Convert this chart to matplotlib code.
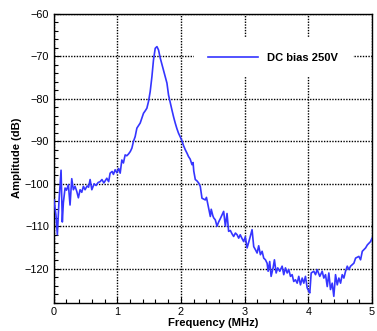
import numpy as np
import matplotlib
matplotlib.use('Agg')
import matplotlib.pyplot as plt
from matplotlib.ticker import MultipleLocator

plt.rcParams['font.family'] = ['Liberation Sans', 'DejaVu Sans']

# spectrum (MHz, dB)
freq = [0.008, 0.039, 0.060, 0.086, 0.118, 0.138, 0.154, 0.181, 0.204, 0.233,
        0.259, 0.286, 0.311, 0.338, 0.365, 0.390, 0.417, 0.443, 0.469, 0.495,
        0.527, 0.550, 0.574, 0.601, 0.637, 0.668, 0.700, 0.731, 0.760, 0.790,
        0.836, 0.865, 0.888, 0.920, 0.940, 0.967, 0.994, 1.022, 1.046, 1.072,
        1.097, 1.124, 1.150, 1.176, 1.205, 1.230, 1.255, 1.281, 1.308, 1.335,
        1.360, 1.390, 1.412, 1.440, 1.465, 1.491, 1.517, 1.544, 1.569, 1.596,
        1.623, 1.648, 1.675, 1.700, 1.726, 1.755, 1.780, 1.805, 1.830, 1.858,
        1.885, 1.910, 1.936, 1.962, 1.990, 2.016, 2.040, 2.068, 2.095, 2.119,
        2.145, 2.173, 2.190, 2.201, 2.225, 2.250, 2.277, 2.303, 2.330, 2.356,
        2.382, 2.400, 2.434, 2.461, 2.475, 2.500, 2.513, 2.539, 2.566, 2.591,
        2.618, 2.645, 2.670, 2.697, 2.710, 2.723, 2.748, 2.775, 2.802, 2.827,
        2.855, 2.881, 2.906, 2.930, 2.959, 2.984, 3.010, 3.038, 3.074, 3.116,
        3.142, 3.168, 3.195, 3.220, 3.247, 3.274, 3.299, 3.326, 3.352, 3.368,
        3.393, 3.415, 3.446, 3.467, 3.494, 3.519, 3.551, 3.588, 3.613, 3.640,
        3.667, 3.692, 3.719, 3.745, 3.770, 3.797, 3.824, 3.849, 3.876, 3.903,
        3.928, 3.954, 3.981, 4.006, 4.022, 4.044, 4.085, 4.112, 4.138, 4.179,
        4.217, 4.242, 4.269, 4.296, 4.321, 4.347, 4.374, 4.399, 4.426, 4.453,
        4.478, 4.505, 4.531, 4.557, 4.583, 4.610, 4.636, 4.662, 4.714, 4.741,
        4.792, 4.819, 4.846, 4.898, 4.925, 4.976, 5.000]
amp = [-103.8, -107.5, -112.0, -104.0, -96.8, -109.0, -104.5, -101.0, -101.5, -100.2,
       -105.0, -98.8, -101.4, -100.6, -101.8, -103.3, -101.4, -102.0, -100.6, -101.4,
       -100.5, -100.8, -99.0, -101.4, -100.0, -100.4, -99.7, -99.5, -99.0, -99.8,
       -98.7, -99.5, -97.5, -97.1, -97.8, -96.7, -97.4, -96.4, -97.5, -94.4,
       -95.1, -93.2, -93.4, -93.0, -92.4, -91.6, -90.0, -88.9, -86.9, -86.3,
       -85.7, -84.4, -83.4, -82.8, -82.2, -80.6, -78.3, -74.8, -70.8, -68.1,
       -67.7, -68.5, -70.4, -71.8, -73.2, -74.8, -76.3, -79.1, -80.8, -82.6,
       -84.3, -85.7, -87.0, -88.1, -89.0, -89.9, -91.0, -92.0, -92.8, -93.6,
       -94.2, -95.5, -95.0, -97.0, -99.0, -99.3, -99.8, -100.6, -103.4, -103.6,
       -103.8, -103.2, -105.7, -107.7, -106.0, -107.5, -108.0, -108.5, -110.0, -109.0,
       -108.2, -107.3, -106.5, -110.0, -108.5, -107.0, -111.2, -111.0, -111.8, -112.4,
       -111.6, -112.0, -112.8, -112.0, -112.9, -113.6, -112.5, -115.1, -113.2, -110.8,
       -114.8, -115.5, -116.3, -114.6, -116.7, -115.9, -117.5, -117.9, -118.7, -120.6,
       -118.3, -121.8, -119.8, -117.9, -121.0, -119.8, -120.6, -119.4, -121.4, -119.8,
       -121.0, -120.2, -121.8, -121.4, -123.0, -122.6, -123.4, -121.8, -123.8, -122.2,
       -123.4, -121.8, -124.5, -125.3, -125.7, -121.0, -120.6, -121.4, -120.2, -121.8,
       -120.6, -122.2, -121.4, -124.2, -121.0, -124.9, -123.4, -126.5, -121.4, -123.8,
       -122.2, -123.4, -121.4, -122.2, -120.6, -119.4, -120.2, -119.4, -118.7, -117.5,
       -117.1, -117.9, -115.9, -115.1, -114.4, -113.6, -112.8]

fig = plt.figure(figsize=(3.77, 3.31), dpi=100)
ax = fig.add_axes([0.142, 0.0855, 0.845, 0.8725])

ax.plot(freq, amp, color='#3535ff', lw=1.2, label='DC bias 250V', zorder=3)

ax.set_xlim(0, 5)
ax.set_ylim(-128, -60)
ax.xaxis.set_major_locator(MultipleLocator(1))
ax.xaxis.set_minor_locator(MultipleLocator(0.2))
ax.yaxis.set_major_locator(MultipleLocator(10))
ax.yaxis.set_minor_locator(MultipleLocator(2))
ax.tick_params(which='both', direction='in', top=False, right=False,
               labelsize=7.8, pad=3)
ax.tick_params(which='major', length=4, width=0.8)
ax.tick_params(which='minor', length=3, width=0.8)
ax.grid(True, which='major', color='black', linestyle=(0, (1, 1)), lw=1.0)
for s in ax.spines.values():
    s.set_linewidth(1.0)

ax.set_xlabel('Frequency (MHz)', fontsize=8.1, fontweight='bold', labelpad=1)
ax.set_ylabel('Amplitude (dB)', fontsize=8.1, fontweight='bold', labelpad=2)

leg = ax.legend(loc='center', bbox_to_anchor=(0.69, 0.848), borderaxespad=0,
                frameon=True, fancybox=False, edgecolor='none', facecolor='white',
                framealpha=1, handlelength=4.5, handletextpad=0.8, borderpad=1.3,
                prop={'size': 8, 'weight': 'bold'})
leg.set_zorder(5)

fig.savefig('out.png', dpi=100)
